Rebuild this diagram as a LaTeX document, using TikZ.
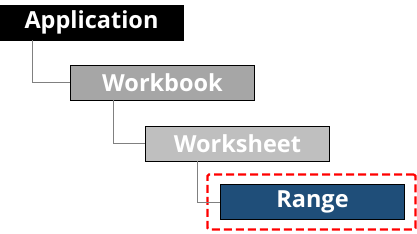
\documentclass[tikz,border=0pt]{standalone}
\usepackage{fontspec}
\setmainfont{Open Sans}
\definecolor{wbgray}{HTML}{A6A6A6}
\definecolor{wsgray}{HTML}{BFBFBF}
\definecolor{rangeblue}{HTML}{1F4E79}
\definecolor{linegray}{HTML}{808080}
\begin{document}
\begin{tikzpicture}[x=1pt,y=-1pt,
  objbox/.style={draw=black, line width=0.8pt, minimum width=184pt, minimum height=35pt,
    inner sep=0pt, text=white, font=\bfseries\fontsize{23.5}{26}\selectfont},
  conn/.style={draw=linegray, line width=0.9pt}]
\useasboundingbox (0,0) rectangle (417,233);
\node[objbox, fill=black] (app) at (91.5,22.5) {Application};
\node[objbox, fill=wbgray] (wb) at (162.5,82.5) {Workbook};
\node[objbox, fill=wsgray] (ws) at (237.5,143.5) {Worksheet};
\node[objbox, fill=rangeblue] (rg) at (312.5,202) {Range};
\node[draw=red, line width=2.2pt, rounded corners=1.5pt, dash pattern=on 8pt off 4pt, minimum width=208pt, minimum height=55pt, inner sep=0pt] (hl) at (311.5,202) {};
\draw[conn] (app.south -| 32,0) |- (wb.west);
\draw[conn] (wb.south -| 113,0) |- (ws.west);
\draw[conn] (ws.south -| 197,0) |- (rg.west);
\end{tikzpicture}
\end{document}
